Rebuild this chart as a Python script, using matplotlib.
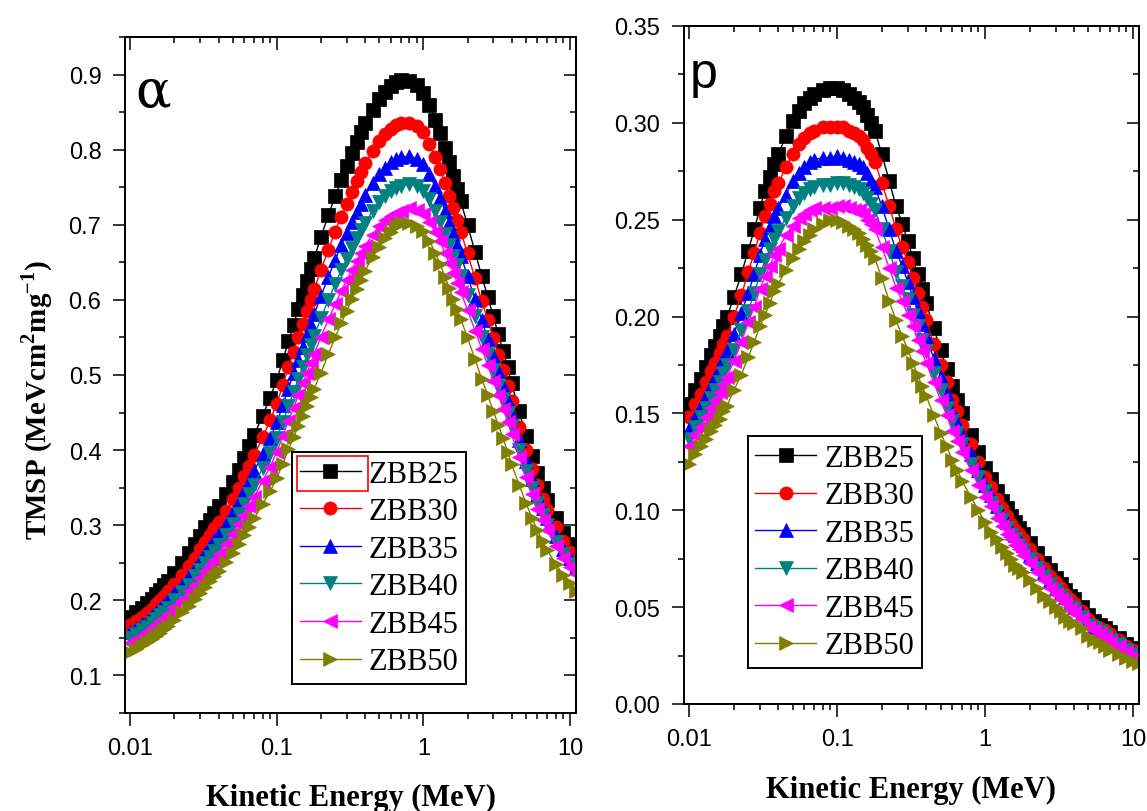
import numpy as np
import matplotlib
matplotlib.use("Agg")
import matplotlib.pyplot as plt
from matplotlib.ticker import LogLocator, NullFormatter, MultipleLocator, FormatStrFormatter
from matplotlib.patches import Rectangle
from matplotlib.transforms import IdentityTransform

# --- Energy grid (MeV), same for every glass ---
energy = [0.010, 0.011, 0.012, 0.013, 0.014, 0.015, 0.016, 0.017, 0.018, 0.020,
          0.0225, 0.025, 0.0275, 0.030, 0.0325, 0.035, 0.0375, 0.040, 0.045, 0.050,
          0.055, 0.060, 0.065, 0.070, 0.080, 0.090, 0.100, 0.110, 0.120, 0.130,
          0.140, 0.150, 0.160, 0.170, 0.180, 0.200, 0.225, 0.250, 0.275, 0.300,
          0.325, 0.350, 0.375, 0.400, 0.450, 0.500, 0.550, 0.600, 0.650, 0.700,
          0.800, 0.900, 1.00, 1.10, 1.20, 1.30, 1.40, 1.50, 1.60, 1.70,
          1.80, 2.00, 2.25, 2.50, 2.75, 3.00, 3.25, 3.50, 3.75, 4.00,
          4.50, 5.00, 5.50, 6.00, 6.50, 7.00, 8.00, 9.00, 10.0, 11.0]

labels = ["ZBB25", "ZBB30", "ZBB35", "ZBB40", "ZBB45", "ZBB50"]

# --- alpha particles: TMSP (MeV cm2 mg-1) ---
alpha_zbb25 = [0.178, 0.184, 0.190, 0.196, 0.202, 0.208, 0.214, 0.220, 0.226, 0.237,
               0.250, 0.263, 0.275, 0.286, 0.297, 0.307, 0.316, 0.325, 0.341, 0.358,
               0.374, 0.390, 0.405, 0.420, 0.446, 0.470, 0.494, 0.520, 0.545, 0.567,
               0.588, 0.607, 0.625, 0.641, 0.656, 0.684, 0.713, 0.738, 0.760, 0.778,
               0.795, 0.810, 0.823, 0.835, 0.853, 0.867, 0.877, 0.885, 0.890, 0.893,
               0.892, 0.886, 0.876, 0.860, 0.840, 0.822, 0.802, 0.783, 0.765, 0.748,
               0.731, 0.700, 0.664, 0.632, 0.604, 0.578, 0.554, 0.532, 0.510, 0.489,
               0.452, 0.419, 0.392, 0.369, 0.350, 0.334, 0.309, 0.290, 0.275, 0.263]
alpha_zbb30 = [0.167, 0.172, 0.178, 0.183, 0.189, 0.195, 0.200, 0.206, 0.212, 0.222,
               0.234, 0.246, 0.257, 0.268, 0.278, 0.287, 0.296, 0.304, 0.319, 0.335,
               0.350, 0.365, 0.379, 0.393, 0.417, 0.440, 0.462, 0.487, 0.510, 0.531,
               0.550, 0.568, 0.585, 0.600, 0.614, 0.640, 0.667, 0.691, 0.711, 0.728,
               0.744, 0.758, 0.770, 0.782, 0.798, 0.812, 0.821, 0.828, 0.833, 0.836,
               0.836, 0.831, 0.823, 0.808, 0.790, 0.774, 0.756, 0.738, 0.722, 0.707,
               0.691, 0.662, 0.629, 0.599, 0.573, 0.549, 0.527, 0.506, 0.486, 0.466,
               0.431, 0.400, 0.375, 0.353, 0.335, 0.320, 0.297, 0.279, 0.265, 0.253]
alpha_zbb35 = [0.158, 0.163, 0.168, 0.173, 0.179, 0.184, 0.189, 0.195, 0.200, 0.210,
               0.221, 0.233, 0.243, 0.253, 0.263, 0.272, 0.280, 0.288, 0.302, 0.317,
               0.331, 0.345, 0.358, 0.372, 0.395, 0.416, 0.437, 0.460, 0.482, 0.502,
               0.520, 0.537, 0.553, 0.567, 0.581, 0.605, 0.631, 0.653, 0.673, 0.689,
               0.704, 0.717, 0.728, 0.739, 0.755, 0.767, 0.776, 0.783, 0.788, 0.790,
               0.791, 0.788, 0.781, 0.767, 0.751, 0.736, 0.719, 0.703, 0.688, 0.673,
               0.659, 0.632, 0.601, 0.573, 0.548, 0.525, 0.505, 0.485, 0.466, 0.447,
               0.414, 0.385, 0.361, 0.340, 0.323, 0.309, 0.286, 0.269, 0.256, 0.245]
alpha_zbb40 = [0.150, 0.155, 0.160, 0.165, 0.170, 0.175, 0.180, 0.185, 0.190, 0.200,
               0.211, 0.221, 0.232, 0.241, 0.250, 0.258, 0.266, 0.274, 0.287, 0.301,
               0.315, 0.328, 0.341, 0.354, 0.376, 0.396, 0.416, 0.438, 0.459, 0.477,
               0.495, 0.511, 0.526, 0.540, 0.552, 0.576, 0.600, 0.621, 0.640, 0.655,
               0.669, 0.682, 0.693, 0.703, 0.718, 0.730, 0.738, 0.745, 0.749, 0.752,
               0.754, 0.751, 0.745, 0.734, 0.718, 0.704, 0.688, 0.673, 0.659, 0.646,
               0.632, 0.607, 0.578, 0.551, 0.528, 0.506, 0.486, 0.468, 0.450, 0.432,
               0.400, 0.372, 0.349, 0.330, 0.313, 0.300, 0.278, 0.262, 0.249, 0.239]
alpha_zbb45 = [0.143, 0.148, 0.153, 0.158, 0.163, 0.167, 0.172, 0.177, 0.182, 0.191,
               0.201, 0.212, 0.221, 0.230, 0.239, 0.247, 0.254, 0.262, 0.275, 0.288,
               0.301, 0.314, 0.326, 0.338, 0.359, 0.378, 0.398, 0.419, 0.439, 0.456,
               0.473, 0.489, 0.503, 0.516, 0.528, 0.551, 0.574, 0.594, 0.612, 0.626,
               0.640, 0.652, 0.663, 0.672, 0.687, 0.698, 0.706, 0.712, 0.716, 0.719,
               0.722, 0.720, 0.715, 0.704, 0.690, 0.678, 0.663, 0.649, 0.636, 0.623,
               0.610, 0.587, 0.559, 0.535, 0.513, 0.492, 0.473, 0.455, 0.438, 0.421,
               0.391, 0.364, 0.341, 0.322, 0.307, 0.294, 0.273, 0.257, 0.245, 0.235]
alpha_zbb50 = [0.131, 0.135, 0.140, 0.144, 0.148, 0.153, 0.157, 0.162, 0.166, 0.174,
               0.184, 0.193, 0.202, 0.210, 0.218, 0.226, 0.232, 0.239, 0.251, 0.263,
               0.275, 0.287, 0.298, 0.309, 0.328, 0.345, 0.363, 0.382, 0.401, 0.417,
               0.432, 0.446, 0.459, 0.471, 0.482, 0.503, 0.528, 0.550, 0.569, 0.585,
               0.601, 0.615, 0.627, 0.639, 0.657, 0.671, 0.682, 0.691, 0.698, 0.702,
               0.703, 0.699, 0.692, 0.679, 0.663, 0.648, 0.631, 0.616, 0.601, 0.588,
               0.574, 0.550, 0.521, 0.495, 0.473, 0.452, 0.433, 0.416, 0.398, 0.381,
               0.354, 0.330, 0.310, 0.293, 0.279, 0.267, 0.248, 0.234, 0.223, 0.213]

# --- protons: TMSP (MeV cm2 mg-1) ---
proton_zbb25 = [0.155, 0.162, 0.168, 0.174, 0.180, 0.185, 0.190, 0.195, 0.200, 0.210,
                0.222, 0.234, 0.245, 0.256, 0.265, 0.272, 0.279, 0.284, 0.293, 0.301,
                0.306, 0.310, 0.313, 0.315, 0.317, 0.318, 0.318, 0.317, 0.315, 0.313,
                0.311, 0.308, 0.304, 0.300, 0.296, 0.284, 0.270, 0.257, 0.248, 0.239,
                0.230, 0.222, 0.214, 0.207, 0.194, 0.183, 0.173, 0.164, 0.157, 0.150,
                0.139, 0.130, 0.122, 0.116, 0.110, 0.105, 0.101, 0.097, 0.094, 0.091,
                0.088, 0.083, 0.078, 0.073, 0.069, 0.065, 0.062, 0.059, 0.056, 0.054,
                0.050, 0.046, 0.043, 0.041, 0.039, 0.037, 0.034, 0.031, 0.029, 0.027]
proton_zbb30 = [0.148, 0.155, 0.160, 0.166, 0.172, 0.176, 0.181, 0.186, 0.190, 0.200,
                0.211, 0.223, 0.233, 0.243, 0.252, 0.258, 0.265, 0.269, 0.277, 0.284,
                0.289, 0.292, 0.295, 0.296, 0.298, 0.298, 0.298, 0.298, 0.296, 0.295,
                0.293, 0.291, 0.287, 0.284, 0.280, 0.269, 0.257, 0.245, 0.236, 0.228,
                0.220, 0.212, 0.205, 0.198, 0.186, 0.175, 0.166, 0.157, 0.151, 0.144,
                0.134, 0.125, 0.117, 0.112, 0.106, 0.101, 0.097, 0.093, 0.090, 0.088,
                0.085, 0.080, 0.075, 0.070, 0.066, 0.063, 0.060, 0.057, 0.054, 0.052,
                0.048, 0.044, 0.041, 0.039, 0.038, 0.036, 0.033, 0.030, 0.028, 0.026]
proton_zbb35 = [0.142, 0.148, 0.154, 0.159, 0.164, 0.169, 0.173, 0.178, 0.182, 0.191,
                0.202, 0.212, 0.222, 0.232, 0.240, 0.246, 0.252, 0.256, 0.263, 0.270,
                0.274, 0.277, 0.280, 0.281, 0.282, 0.282, 0.283, 0.282, 0.281, 0.280,
                0.279, 0.277, 0.274, 0.270, 0.267, 0.257, 0.245, 0.234, 0.226, 0.218,
                0.210, 0.203, 0.196, 0.190, 0.178, 0.169, 0.160, 0.151, 0.145, 0.139,
                0.129, 0.121, 0.113, 0.108, 0.102, 0.098, 0.094, 0.090, 0.087, 0.085,
                0.082, 0.077, 0.073, 0.068, 0.064, 0.060, 0.058, 0.055, 0.052, 0.050,
                0.047, 0.043, 0.040, 0.038, 0.036, 0.034, 0.032, 0.029, 0.027, 0.025]
proton_zbb40 = [0.137, 0.143, 0.148, 0.153, 0.158, 0.162, 0.166, 0.171, 0.175, 0.183,
                0.193, 0.203, 0.212, 0.222, 0.229, 0.235, 0.240, 0.244, 0.251, 0.257,
                0.261, 0.264, 0.266, 0.267, 0.268, 0.268, 0.269, 0.269, 0.268, 0.267,
                0.266, 0.264, 0.261, 0.258, 0.255, 0.245, 0.234, 0.223, 0.216, 0.209,
                0.201, 0.195, 0.188, 0.182, 0.171, 0.162, 0.153, 0.146, 0.140, 0.134,
                0.124, 0.117, 0.110, 0.104, 0.099, 0.095, 0.091, 0.087, 0.085, 0.082,
                0.079, 0.075, 0.070, 0.066, 0.062, 0.059, 0.056, 0.053, 0.050, 0.049,
                0.045, 0.041, 0.039, 0.037, 0.035, 0.033, 0.031, 0.028, 0.026, 0.024]
proton_zbb45 = [0.133, 0.139, 0.143, 0.148, 0.153, 0.157, 0.161, 0.165, 0.169, 0.177,
                0.187, 0.197, 0.205, 0.214, 0.221, 0.226, 0.232, 0.235, 0.242, 0.247,
                0.251, 0.253, 0.255, 0.256, 0.256, 0.256, 0.257, 0.257, 0.256, 0.255,
                0.255, 0.253, 0.250, 0.248, 0.245, 0.236, 0.225, 0.215, 0.208, 0.201,
                0.195, 0.188, 0.182, 0.176, 0.166, 0.157, 0.149, 0.141, 0.136, 0.130,
                0.121, 0.113, 0.107, 0.102, 0.096, 0.092, 0.088, 0.085, 0.082, 0.080,
                0.077, 0.073, 0.068, 0.064, 0.060, 0.057, 0.054, 0.052, 0.049, 0.047,
                0.044, 0.040, 0.038, 0.036, 0.034, 0.032, 0.030, 0.027, 0.025, 0.024]
proton_zbb50 = [0.124, 0.129, 0.133, 0.137, 0.141, 0.144, 0.147, 0.151, 0.154, 0.162,
                0.170, 0.179, 0.187, 0.195, 0.201, 0.207, 0.213, 0.217, 0.224, 0.230,
                0.235, 0.239, 0.242, 0.245, 0.248, 0.250, 0.250, 0.249, 0.247, 0.245,
                0.243, 0.240, 0.237, 0.234, 0.230, 0.220, 0.208, 0.198, 0.190, 0.183,
                0.176, 0.170, 0.164, 0.159, 0.149, 0.140, 0.133, 0.126, 0.121, 0.115,
                0.107, 0.100, 0.094, 0.089, 0.085, 0.081, 0.078, 0.075, 0.072, 0.070,
                0.068, 0.064, 0.060, 0.056, 0.053, 0.050, 0.048, 0.045, 0.043, 0.042,
                0.039, 0.035, 0.033, 0.032, 0.030, 0.028, 0.026, 0.024, 0.022, 0.021]

alpha_series = [alpha_zbb25, alpha_zbb30, alpha_zbb35, alpha_zbb40, alpha_zbb45, alpha_zbb50]
proton_series = [proton_zbb25, proton_zbb30, proton_zbb35, proton_zbb40, proton_zbb45, proton_zbb50]

# Origin-like colours and symbols
colors = ["#000000", "#FF0000", "#0000FF", "#008080", "#FF00FF", "#808000"]
markers = ["s", "o", "^", "v", "<", ">"]

plt.rcParams["font.family"] = ["Liberation Sans", "DejaVu Sans"]
plt.rcParams["mathtext.fontset"] = "custom"
plt.rcParams["mathtext.rm"] = "Liberation Serif"
plt.rcParams["mathtext.bf"] = "Liberation Serif:bold"

serif = ["Liberation Serif", "DejaVu Serif"]

fig = plt.figure(figsize=(11.47, 8.12), dpi=100)
ax1 = fig.add_axes([125 / 1147, 1 - 714 / 812, 451 / 1147, 676 / 812])
ax2 = fig.add_axes([684 / 1147, 1 - 705 / 812, 455 / 1147, 678 / 812])


def style_panel(ax, ylim, yticks, yminor, yfmt):
    ax.set_xscale("log")
    ax.set_xlim(0.0092, 11.0)
    ax.set_ylim(*ylim)
    ax.set_xticks([0.01, 0.1, 1, 10])
    ax.set_xticklabels(["0.01", "0.1", "1", "10"])
    ax.xaxis.set_minor_locator(LogLocator(base=10, subs=np.arange(2, 10)))
    ax.xaxis.set_minor_formatter(NullFormatter())
    ax.set_yticks(yticks)
    ax.yaxis.set_major_formatter(FormatStrFormatter(yfmt))
    ax.yaxis.set_minor_locator(MultipleLocator(yminor))
    ax.tick_params(which="both", direction="out", width=1.1, labelsize=17, pad=8)
    ax.tick_params(which="major", length=9)
    ax.tick_params(which="minor", length=4.5)
    for sp in ax.spines.values():
        sp.set_linewidth(1.4)

    # top and right axes: ticks pointing inwards, no labels
    top = ax.secondary_xaxis("top")
    top.set_xticks([0.01, 0.1, 1, 10])
    top.xaxis.set_minor_locator(LogLocator(base=10, subs=np.arange(2, 10)))
    top.tick_params(axis="x", which="both", direction="in", width=1.1,
                    labeltop=False, labelbottom=False)
    top.tick_params(which="major", length=9)
    top.tick_params(which="minor", length=4.5)
    right = ax.secondary_yaxis("right")
    right.set_yticks(yticks)
    right.yaxis.set_minor_locator(MultipleLocator(yminor))
    right.tick_params(axis="y", which="both", direction="in", width=1.1,
                      labelright=False, labelleft=False)
    right.tick_params(which="major", length=9)
    right.tick_params(which="minor", length=4.5)
    for sec in (top, right):
        for sp in sec.spines.values():
            sp.set_linewidth(1.4)


def draw_series(ax, series):
    for vals, lab, c, m in zip(series, labels, colors, markers):
        ax.plot(energy, vals, color=c, marker=m, markersize=9.5, linewidth=1,
                markeredgecolor=c, markeredgewidth=0.5, label=lab)


def add_legend(ax, anchor):
    leg = ax.legend(loc="lower left", bbox_to_anchor=anchor, borderaxespad=0,
                    prop={"family": serif, "size": 22}, fancybox=False,
                    edgecolor="black", framealpha=1, handlelength=2.0,
                    handletextpad=0.25, labelspacing=0.28, borderpad=0.25,
                    markerscale=1.0)
    leg.get_frame().set_linewidth(1.4)
    return leg


# ===== alpha panel =====
draw_series(ax1, alpha_series)
style_panel(ax1, (0.05, 0.95), np.arange(0.1, 0.91, 0.1), 0.05, "%.1f")
ax1.text(0.022, 0.898, "\u03b1", transform=ax1.transAxes, family="DejaVu Serif",
         fontsize=38, ha="left", va="baseline")
ax1.set_xlabel("Kinetic Energy (MeV)", family=serif, fontweight="bold", fontsize=22)
ax1.xaxis.set_label_coords(0.5, -0.104)
ax1.set_ylabel(r"TMSP (MeVcm$^\mathbf{2}$mg$^\mathbf{-1}$)", family=serif,
               fontweight="bold", fontsize=21)
ax1.yaxis.set_label_coords(-0.155, 0.464)
leg1 = add_legend(ax1, (0.3705, 0.043))

# ===== proton panel =====
draw_series(ax2, proton_series)
style_panel(ax2, (0.0, 0.35), np.arange(0.0, 0.351, 0.05), 0.025, "%.2f")
ax2.text(0.013, 0.91, "p", transform=ax2.transAxes, fontsize=36,
         ha="left", va="baseline")
ax2.set_xlabel("Kinetic Energy (MeV)", family=serif, fontweight="bold", fontsize=22)
ax2.xaxis.set_label_coords(0.5, -0.105)
leg2 = add_legend(ax2, (0.14, 0.053))

# red selection box around the first legend entry (as in the original)
fig.canvas.draw()
bb = leg1.get_window_extent()
fig.add_artist(Rectangle((bb.x0 + 5, bb.y1 - 39), 71, 35, fill=False,
                         edgecolor="red", linewidth=1.2,
                         transform=IdentityTransform()))

fig.savefig("out.png", dpi=100)
